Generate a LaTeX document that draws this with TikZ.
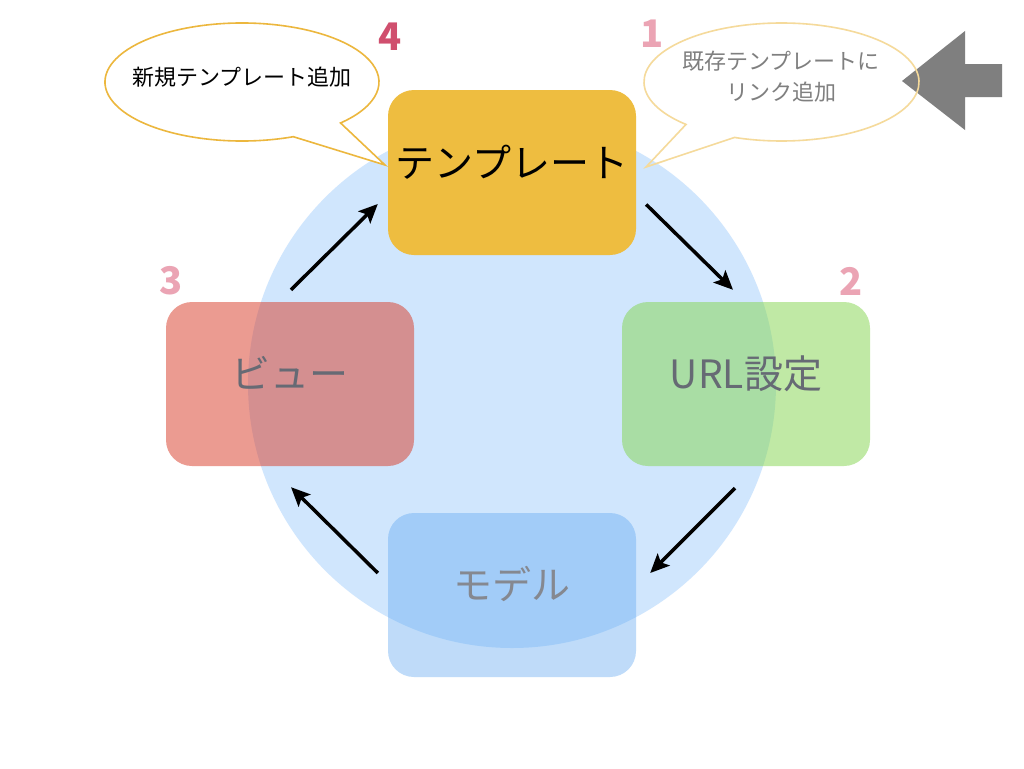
\documentclass[tikz,border=0pt]{standalone}
\usepackage{fontspec}
\setmainfont{Noto Sans CJK JP}
\usetikzlibrary{calc,arrows.meta}
\definecolor{ringblue}{RGB}{208,230,253}
\definecolor{tmplorange}{RGB}{238,189,64}
\definecolor{urlgreen}{RGB}{131,213,77}
\definecolor{viewred}{RGB}{217,57,37}
\definecolor{modelblue}{RGB}{95,167,242}
\definecolor{labelgray}{RGB}{102,106,116}
\definecolor{numpink}{RGB}{235,164,180}
\definecolor{numrose}{RGB}{208,79,110}
\definecolor{bubbleorange}{RGB}{236,183,62}
\definecolor{bubblepale}{RGB}{245,218,155}
\definecolor{cuegray}{RGB}{127,127,127}

\begin{document}
\begin{tikzpicture}[x=1pt,y=-1pt,
  box/.style={rounded corners=26pt,minimum width=248pt,minimum height=164pt,inner sep=0pt,
    font=\fontsize{39}{39}\selectfont,text height=20pt,text depth=11pt,text opacity=1},
  flow/.style={-{Stealth[length=19pt,width=17pt,inset=4pt]},line width=3.5pt},
  numlabel/.style={inner sep=0pt,font=\fontsize{38}{38}\selectfont\bfseries},
  bubble/.style={line width=1.6pt,line join=miter},
  bubbletext/.style={inner sep=0pt,align=center,font=\fontsize{22}{31}\selectfont}]
  \useasboundingbox (0,0) rectangle (1024,768);
  \fill[white] (0,0) rectangle (1024,768);
  \fill[ringblue] (512,384) circle[radius=264];
  \node[box,fill=modelblue,fill opacity=.4,text=labelgray!80!white] (model) at (512,595) {モデル};
  \node[box,fill=urlgreen,fill opacity=.5,text=labelgray] (url) at (746,384) {URL設定};
  \node[box,fill=viewred,fill opacity=.5,text=labelgray] (view) at (290,384) {ビュー};
  \node[box,fill=tmplorange,text=black,minimum height=165pt] (tmpl) at (512,172.5) {テンプレート};
  \draw[flow] ($(tmpl.east)+(10,32)$) -- ($(url.north)+(-13,-12)$);
  \draw[flow] ($(url.south)+(-11,22)$) -- ($(model.east)+(14,-22)$);
  \draw[flow] ($(model.west)+(-10,-22)$) -- ($(view.south)+(1,21)$);
  \draw[flow] ($(view.north)+(1,-12)$) -- ($(tmpl.west)+(-10,31.5)$);
  \node[numlabel,text=numrose] (n4) at (390,37) {4};
  \node[numlabel,text=numpink] (n1) at (652,34) {1};
  \node[numlabel,text=numpink] (n2) at (851,281) {2};
  \node[numlabel,text=numpink] (n3) at (171,281) {3};
  \draw[bubble,bubbleorange,fill=white] ($(242,82)+(68:137 and 59)$)
    arc[start angle=68,end angle=404,x radius=137,y radius=59] -- (385,165) -- cycle;
  \node[bubbletext,text=black] (newtmpl) at (242,77) {新規テンプレート追加};
  \fill[cuegray] (902,81) -- (965,31) -- (965,64) -- (1002,64) -- (1002,97)
    -- (965,97) -- (965,130) -- cycle;
  \draw[bubble,bubblepale] ($(781.5,82)+(134:137.5 and 59)$)
    arc[start angle=134,end angle=470,x radius=137.5,y radius=59] -- (646,167) -- cycle;
  \node[bubbletext,text=cuegray] (addlink) at (781,77) {既存テンプレートに\\リンク追加};
\end{tikzpicture}
\end{document}
